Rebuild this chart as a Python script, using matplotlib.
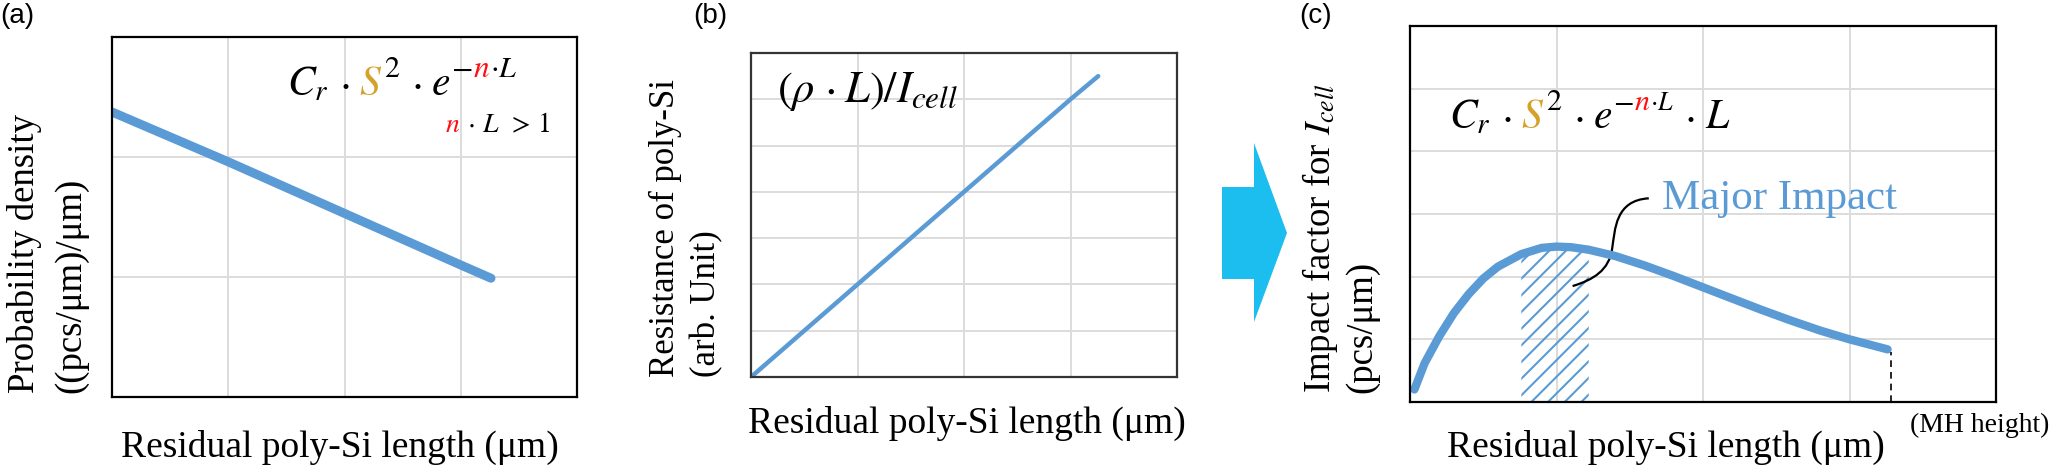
import matplotlib
matplotlib.use('Agg')
import matplotlib.pyplot as plt
import numpy as np
from matplotlib.patches import Polygon, PathPatch
from matplotlib.path import Path

plt.rcParams['mathtext.fontset'] = 'stix'
plt.rcParams['font.family'] = ['Liberation Serif', 'DejaVu Serif']
plt.rcParams['hatch.linewidth'] = 1.5

W, H = 2057, 467

# (a) probability density vs residual length
a_x = [0, 1, 2, 3, 3.26]
a_y = [2.375, 1.96, 1.53, 1.10, 0.99]

# (b) resistance vs residual length
b_x = [0, 1, 2, 3, 3.26]
b_y = [0, 2.0, 4.0, 6.0, 6.5]

# (c) impact factor vs residual length
c_x = [0.03, 0.1, 0.2, 0.3, 0.4, 0.5, 0.6, 0.76, 0.9, 1.0, 1.1, 1.22,
       1.4, 1.6, 1.8, 2.0, 2.2, 2.4, 2.6, 2.8, 3.0, 3.26]
c_y = [0.2, 0.62, 1.05, 1.42, 1.72, 1.97, 2.16, 2.36, 2.46, 2.48, 2.47, 2.43,
       2.33, 2.18, 2.01, 1.83, 1.65, 1.47, 1.30, 1.14, 1.0, 0.84]
major_lo, major_hi = 0.76, 1.22
mh_height = 3.28

blue = '#5B9BD5'
gold = '#D4A22A'
red = '#FF1010'
grid_c = '#DCDCDC'

fig = plt.figure(figsize=(W / 100, H / 100), dpi=100)


def px_axes(l, t, r, b):
    return fig.add_axes([l / W, 1 - b / H, (r - l) / W, (b - t) / H])


def style(ax, xmax, ymax, spine_c='black', lw=1.6):
    ax.set_xlim(0, xmax)
    ax.set_ylim(0, ymax)
    ax.set_xticks(np.arange(1, xmax))
    ax.set_yticks(np.arange(1, ymax))
    ax.tick_params(length=0, labelbottom=False, labelleft=False)
    ax.grid(True, color=grid_c, lw=1.4)
    ax.set_axisbelow(True)
    for s in ax.spines.values():
        s.set_color(spine_c)
        s.set_linewidth(lw)


def ftext(x, y, s, **kw):
    return fig.text(x / W, 1 - y / H, s, **kw)


def math_row(x, y, pieces, size):
    # pieces: (text, color, rise in px, size factor) or a number = gap in px
    r = fig.canvas.get_renderer()
    for p in pieces:
        if not isinstance(p, tuple):
            x += p
            continue
        s, c, rise, f = p
        t = ftext(x, y - rise, s, color=c, fontsize=size * f, va='baseline', ha='left')
        x += t.get_window_extent(r).width


# ---- panel (a)
ax1 = px_axes(112, 37, 577, 397)
style(ax1, 4, 3)
ax1.plot(a_x, a_y, color=blue, lw=6.5, solid_capstyle='round')

# ---- panel (b)
ax2 = px_axes(751, 53, 1177, 377)
style(ax2, 4, 7, spine_c='#333333')
ax2.plot(b_x, b_y, color=blue, lw=3.2, solid_capstyle='round')

# ---- panel (c)
ax3 = px_axes(1410, 26, 1996, 402)
style(ax3, 4, 6)
cx = np.array(c_x)
cy = np.array(c_y)
m = (cx >= major_lo) & (cx <= major_hi)
ax3.fill_between(cx[m], 0, cy[m], facecolor='none', edgecolor=blue, hatch='//', lw=0)
ax3.plot(cx, cy, color=blue, lw=6, solid_capstyle='round')
ax3.plot([mh_height, mh_height], [0, cy[-1] - 0.05], color='black', ls=(0, (4, 3)), lw=1.2)

squiggle = Path([(1.63, 3.25), (1.40, 3.22), (1.40, 2.75), (1.38, 2.45),
                 (1.36, 2.10), (1.25, 1.95), (1.11, 1.85)],
                [Path.MOVETO, Path.CURVE4, Path.CURVE4, Path.CURVE4,
                 Path.CURVE4, Path.CURVE4, Path.CURVE4])
ax3.add_patch(PathPatch(squiggle, facecolor='none', edgecolor='black', lw=1.6))
ax3.text(1.72, 3.25, 'Major Impact', color=blue, fontsize=31, va='center', ha='left')

# ---- arrow between (b) and (c)
arrow_px = [(1222, 187), (1254, 187), (1254, 143), (1287, 233),
            (1254, 322), (1254, 279), (1222, 279)]
fig.patches.append(Polygon([(x / W, 1 - y / H) for x, y in arrow_px], closed=True,
                           transform=fig.transFigure, facecolor='#1CBDEF', edgecolor='none'))

# ---- panel letters
for s, x in [('(a)', 0), ('(b)', 693), ('(c)', 1299)]:
    ftext(x, 16, s, fontsize=20, family='Liberation Sans', va='center', ha='left')

# ---- axis labels
xl = 'Residual poly-Si length (μm)'
ftext(340, 447, xl, fontsize=27, ha='center', va='center')
ftext(967, 423, xl, fontsize=27, ha='center', va='center')
ftext(1666, 447, xl, fontsize=27, ha='center', va='center')
ftext(1980, 425, '(MH height)', fontsize=20, ha='center', va='center')

yl = dict(rotation=90, ha='center', va='bottom', fontsize=26.5)
ftext(25, 393, 'Probability density', **yl)
ftext(71, 393, '((pcs/μm)/μm)', **yl)
ftext(665, 377, 'Resistance of poly-Si', **dict(yl, fontsize=25))
ftext(707, 377, '(arb. Unit)', **dict(yl, fontsize=25))
ftext(1320, 393, 'Impact factor for $I_{cell}$', **yl)
ftext(1362, 393, '(pcs/μm)', **yl)

# ---- formulas
k = 'black'
dot = (r'$\cdot$', k, 0, 1)
math_row(287, 95, [('$C_r$', k, 0, 1), 10, dot, 10,
                   ('$S$', gold, 0, 1), 2, ('$2$', k, 18, .72), 10,
                   dot, 10, ('$e$', k, 0, 1), 1,
                   ('$-$', k, 18, .75), ('$n$', red, 18, .75),
                   (r'$\cdot L$', k, 18, .72)], 30)
math_row(445, 132, [('$n$', red, 0, 1), 7, dot, 7, ('$L$', k, 0, 1), 7,
                    ('$>$', k, 0, 1), 7, ('$1$', k, 0, 1)], 20)
math_row(777, 102, [(r'$(\rho$', k, 0, 1), 9, dot, 9, (r'$L)/I_{cell}$', k, 0, 1)], 32)
math_row(1449, 128, [('$C_r$', k, 0, 1), 10, dot, 10,
                     ('$S$', gold, 0, 1), 2, ('$2$', k, 18, .72), 10,
                     dot, 10, ('$e$', k, 0, 1), 1,
                     ('$-$', k, 18, .72), ('$n$', red, 18, .72),
                     (r'$\cdot L$', k, 18, .62), 10, dot, 10,
                     ('$L$', k, 0, 1)], 30)

fig.savefig('out.png', dpi=100)
